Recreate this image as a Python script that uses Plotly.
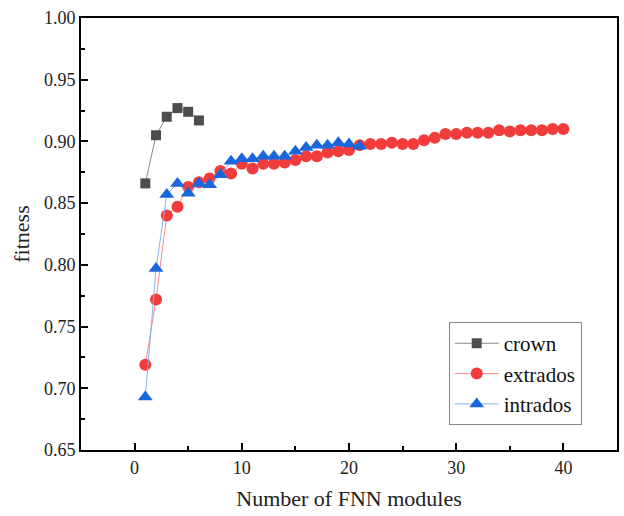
import plotly.graph_objects as go

crown_x = [1, 2, 3, 4, 5, 6]
crown_y = [0.866, 0.905, 0.920, 0.927, 0.924, 0.917]

extrados_x = list(range(1, 41))
extrados_y = [0.719, 0.772, 0.840, 0.847, 0.863, 0.867, 0.870, 0.876, 0.874, 0.882,
              0.878, 0.882, 0.882, 0.883, 0.885, 0.888, 0.888, 0.891, 0.892, 0.893,
              0.897, 0.898, 0.898, 0.899, 0.898, 0.898, 0.901, 0.903, 0.906, 0.906,
              0.907, 0.907, 0.907, 0.909, 0.908, 0.909, 0.909, 0.909, 0.910, 0.910]

intrados_x = list(range(1, 22))
intrados_y = [0.693, 0.797, 0.857, 0.866, 0.858, 0.866, 0.865, 0.873, 0.884, 0.886,
              0.886, 0.888, 0.888, 0.888, 0.892, 0.895, 0.897, 0.897, 0.899, 0.898,
              0.896]

FONT = "Liberation Serif"

fig = go.Figure()
fig.add_trace(go.Scatter(
    x=crown_x, y=crown_y, name="crown", mode="lines+markers",
    line=dict(color="#8a8a8a", width=1),
    marker=dict(symbol="square", size=10, color="#4d4d4d"),
))
fig.add_trace(go.Scatter(
    x=extrados_x, y=extrados_y, name="extrados", mode="lines+markers",
    line=dict(color="#ff8a8a", width=1),
    marker=dict(symbol="circle", size=12, color="#f23c3c"),
))
fig.add_trace(go.Scatter(
    x=intrados_x, y=intrados_y, name="intrados", mode="lines+markers",
    line=dict(color="#8ab0f0", width=1),
    marker=dict(symbol="triangle-up", size=13, color="#1a66dd"),
))

axis_common = dict(
    showline=True, linecolor="black", linewidth=2, mirror=True,
    ticks="inside", tickcolor="black", tickwidth=2, ticklen=7,
    showgrid=False, zeroline=False,
    tickfont=dict(family=FONT, size=18, color="#222"),
)

fig.update_xaxes(
    range=[-5, 45], tickvals=[0, 10, 20, 30, 40],
    minor=dict(ticks="inside", dtick=5, tick0=0, ticklen=4, tickwidth=2, tickcolor="black"),
    title=dict(text="Number of FNN modules", font=dict(family=FONT, size=22, color="#222"), standoff=14),
    **axis_common,
)
fig.update_yaxes(
    range=[0.65, 1.00], tickvals=[0.65, 0.70, 0.75, 0.80, 0.85, 0.90, 0.95, 1.00],
    tickformat=".2f",
    minor=dict(ticks="inside", dtick=0.025, tick0=0.65, ticklen=4, tickwidth=2, tickcolor="black"),
    title=dict(text="fitness", font=dict(family=FONT, size=22, color="#222"), standoff=8),
    **axis_common,
)

fig.update_layout(
    width=624, height=516,
    margin=dict(l=81, r=5, t=18, b=66),
    plot_bgcolor="white", paper_bgcolor="white",
    font=dict(family=FONT, color="#222"),
    legend=dict(
        x=0.686, y=0.296, xanchor="left", yanchor="top",
        bordercolor="#888", borderwidth=1, bgcolor="white",
        font=dict(family=FONT, size=21, color="#111"),
        tracegroupgap=0, itemsizing="trace", itemwidth=44,
    ),
    showlegend=True,
)

fig.write_html("out.html", config={"displayModeBar": False},
               post_script="document.body.style.margin='0';document.body.style.padding='0';")
